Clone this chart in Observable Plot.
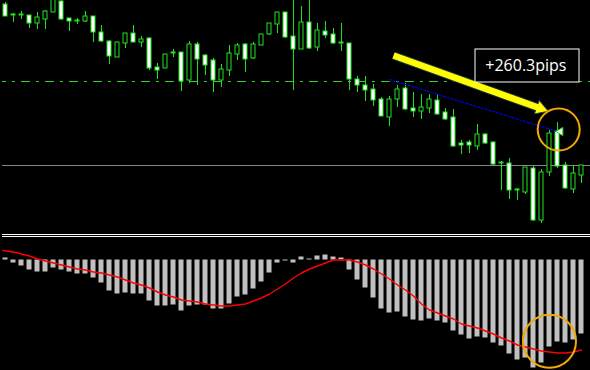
<!DOCTYPE html>
<html>
<head>
<meta charset="utf-8">
<script src="https://cdn.jsdelivr.net/npm/d3@7"></script>
<script src="https://cdn.jsdelivr.net/npm/@observablehq/plot@0.6"></script>
<style>
  html, body { margin: 0; padding: 0; background: #000; }
  #chart { width: 590px; height: 370px; background: #000; overflow: hidden; }
  #chart svg { display: block; }
  .separator { margin-left: 2px; height: 1px; border-top: 1px solid #fff; border-bottom: 1px solid #fff; }
</style>
</head>
<body>
<div id="chart"></div>
<script>
// Price bars (oldest first)
const open = [
  1.1496,1.1486,1.1486,1.1485,1.1477,1.1481,1.1488,1.1499,1.1482,1.1480,
  1.1479,1.1484,1.1468,1.1459,1.1443,1.1457,1.1467,1.1458,1.1462,1.1433,
  1.1432,1.1448,1.1448,1.1420,1.1456,1.1445,1.1440,1.1420,1.1430,1.1446,
  1.1456,1.1442,1.1455,1.1466,1.1476,1.1488,1.1464,1.1451,1.1478,1.1453,
  1.1469,1.1466,1.1458,1.1457,1.1421,1.1415,1.1411,1.1401,1.1383,1.1401,
  1.1412,1.1392,1.1389,1.1392,1.1400,1.1388,1.1383,1.1357,1.1358,1.1354,
  1.1366,1.1358,1.1338,1.1337,1.1311,1.1308,1.1332,1.1280,1.1328,1.1369,
  1.1335,1.1311,1.1325
];
const high = [
  1.1498,1.1487,1.1489,1.1485,1.1488,1.1490,1.1504,1.1500,1.1482,1.1482,
  1.1489,1.1484,1.1475,1.1460,1.1458,1.1467,1.1475,1.1464,1.1463,1.1437,
  1.1446,1.1451,1.1448,1.1459,1.1458,1.1446,1.1442,1.1436,1.1455,1.1457,
  1.1457,1.1458,1.1466,1.1477,1.1488,1.1488,1.1502,1.1494,1.1502,1.1477,
  1.1479,1.1472,1.1477,1.1457,1.1424,1.1424,1.1416,1.1403,1.1404,1.1415,
  1.1417,1.1408,1.1406,1.1406,1.1406,1.1392,1.1391,1.1360,1.1360,1.1376,
  1.1367,1.1359,1.1339,1.1342,1.1312,1.1333,1.1334,1.1331,1.1370,1.1378,
  1.1338,1.1335,1.1335
];
const low = [
  1.1484,1.1478,1.1481,1.1472,1.1471,1.1471,1.1488,1.1480,1.1469,1.1476,
  1.1478,1.1458,1.1458,1.1436,1.1443,1.1452,1.1458,1.1453,1.1430,1.1421,
  1.1432,1.1443,1.1409,1.1417,1.1415,1.1425,1.1408,1.1413,1.1424,1.1440,
  1.1428,1.1441,1.1455,1.1465,1.1467,1.1462,1.1410,1.1451,1.1451,1.1449,
  1.1462,1.1456,1.1449,1.1410,1.1408,1.1399,1.1394,1.1384,1.1374,1.1393,
  1.1390,1.1383,1.1381,1.1387,1.1385,1.1380,1.1353,1.1346,1.1347,1.1350,
  1.1356,1.1335,1.1310,1.1301,1.1300,1.1306,1.1279,1.1277,1.1324,1.1332,
  1.1311,1.1307,1.1317
];
const close = [
  1.1484,1.1485,1.1485,1.1477,1.1483,1.1489,1.1502,1.1481,1.1479,1.1479,
  1.1484,1.1468,1.1459,1.1444,1.1458,1.1467,1.1458,1.1461,1.1432,1.1430,
  1.1446,1.1447,1.1419,1.1456,1.1441,1.1435,1.1420,1.1431,1.1447,1.1455,
  1.1441,1.1456,1.1466,1.1477,1.1488,1.1463,1.1451,1.1478,1.1452,1.1470,
  1.1465,1.1457,1.1457,1.1421,1.1415,1.1410,1.1400,1.1384,1.1401,1.1411,
  1.1391,1.1389,1.1393,1.1401,1.1386,1.1381,1.1354,1.1355,1.1355,1.1366,
  1.1357,1.1336,1.1337,1.1310,1.1310,1.1333,1.1280,1.1328,1.1367,1.1334,
  1.1312,1.1327,1.1335
];

// MACD histogram, one value per bar
const histogram = [
   0.02,-0.03,-0.06,-0.10,-0.12,-0.12,-0.08,-0.10,-0.12,-0.14,
  -0.14,-0.18,-0.23,-0.31,-0.34,-0.33,-0.34,-0.34,-0.41,-0.46,
  -0.46,-0.45,-0.51,-0.46,-0.45,-0.45,-0.49,-0.49,-0.44,-0.37,
  -0.35,-0.29,-0.22,-0.13,-0.03,-0.01,-0.03, 0.03, 0.01, 0.04,
   0.05, 0.03, 0.02,-0.10,-0.20,-0.28,-0.38,-0.49,-0.53,-0.52,
  -0.57,-0.60,-0.61,-0.59,-0.61,-0.63,-0.71,-0.75,-0.79,-0.77,
  -0.78,-0.83,-0.86,-0.94,-1.00,-0.98,-1.08,-1.03,-0.87,-0.82,
  -0.83,-0.80,-0.74
];
// Signal line; starts one bar earlier, just off the left edge
const signal = [
   0.11,
   0.09, 0.08, 0.06, 0.04, 0.01,-0.01,-0.03,-0.05,-0.07,-0.09,
  -0.10,-0.12,-0.13,-0.15,-0.17,-0.20,-0.23,-0.25,-0.28,-0.32,
  -0.35,-0.37,-0.40,-0.41,-0.42,-0.44,-0.45,-0.46,-0.46,-0.45,
  -0.44,-0.41,-0.38,-0.34,-0.29,-0.24,-0.18,-0.13,-0.09,-0.06,
  -0.03, 0.00, 0.00, 0.00,-0.02,-0.05,-0.09,-0.14,-0.19,-0.25,
  -0.30,-0.36,-0.44,-0.50,-0.53,-0.56,-0.59,-0.64,-0.66,-0.68,
  -0.71,-0.74,-0.78,-0.81,-0.85,-0.87,-0.89,-0.91,-0.92,-0.93,
  -0.93,-0.92,-0.90
];

// Horizontal levels
const entryLevel = 1.1419;
const supportLevel = 1.1335;

// Trend line from bar 48 to the marker at bar 69
const trendLine = [{i: 48, price: 1.1421}, {i: 69, price: 1.1369}];
const marker = [{i: 69.375, price: 1.1369}];

// Annotations
const arrowTail = {i: 48.5, price: 1.1445};
const arrowHead = {i: 66.9, price: 1.1392};
const labelText = "+260.3pips";
const labelBox = {i1: 58.75, i2: 71.75, top: 1.1451, bottom: 1.1418};
const labelAnchor = {i: 65.05, price: 1.1435};
const priceCircle = {i: 69.15, price: 1.1371};
const macdCircle = {i: 68.0, value: -0.813};

const candleGreen = "#1ee21e";
const levelGreen = "#32cd32";
const orange = "#f2a900";
const yellow = "#ffff00";
const arrowEdge = "#1d3442";

const bars = open.map((o, i) => ({i, open: o, high: high[i], low: low[i], close: close[i]}));
const hist = histogram.map((v, i) => ({i, v}));
const sig = signal.map((v, k) => ({i: k - 1, v}));

const xDomain = [-0.375, 73.125];

const pricePanel = Plot.plot({
  width: 590, height: 234,
  marginTop: 0, marginBottom: 0, marginLeft: 2, marginRight: 0,
  x: {domain: xDomain, axis: null},
  y: {domain: [1.1266, 1.1500], axis: null},
  style: {background: "#000", overflow: "hidden"},
  marks: [
    Plot.ruleY([supportLevel], {stroke: "#808890", strokeWidth: 1}),
    Plot.ruleY([entryLevel], {stroke: levelGreen, strokeDasharray: "9,6,3,6", strokeDashoffset: 5}),
    Plot.ruleX(bars, {x: "i", y1: "low", y2: "high", stroke: candleGreen, clip: true}),
    Plot.rect(bars, {
      x1: d => d.i - 0.25, x2: d => d.i + 0.25, y1: "open", y2: "close",
      fill: d => d.close < d.open ? "#ffffff" : "#000000",
      stroke: candleGreen, strokeWidth: 1, clip: true
    }),
    Plot.line(trendLine, {x: "i", y: "price", stroke: "#0000ee", strokeWidth: 1.2, strokeDasharray: "2,2"}),
    Plot.dot(marker, {x: "i", y: "price", symbol: "triangle", rotate: -90, r: 3, fill: "#ffffff", stroke: candleGreen, strokeWidth: 1}),
    // yellow arrow: dark edge, head, shaft
    Plot.link([0], {x1: () => arrowTail.i, y1: () => arrowTail.price, x2: () => arrowHead.i, y2: () => arrowHead.price, stroke: arrowEdge, strokeWidth: 8.5}),
    Plot.dot([arrowHead], {x: "i", y: "price", symbol: "triangle", rotate: 109.7, r: 5.4, fill: yellow, stroke: arrowEdge, strokeWidth: 1}),
    Plot.link([0], {x1: () => arrowTail.i, y1: () => arrowTail.price, x2: () => arrowHead.i, y2: () => arrowHead.price, stroke: yellow, strokeWidth: 6.5}),
    // profit label
    Plot.rect([labelBox], {x1: "i1", x2: "i2", y1: "top", y2: "bottom", fill: "#000", stroke: "#ffffff", strokeWidth: 1}),
    Plot.text([labelAnchor], {x: "i", y: "price", text: () => labelText, fill: "#ffffff", fontSize: 16, fontFamily: "Open Sans, sans-serif", textAnchor: "middle"}),
    Plot.dot([priceCircle], {x: "i", y: "price", r: 21, fill: "none", stroke: orange, strokeWidth: 2})
  ]
});

const macdPanel = Plot.plot({
  width: 590, height: 133,
  marginTop: 0, marginBottom: 0, marginLeft: 2, marginRight: 0,
  x: {domain: xDomain, axis: null},
  y: {domain: [-1.105, 0.225], axis: null},
  style: {background: "#000", overflow: "hidden"},
  marks: [
    Plot.rect(hist, {x1: d => d.i - 0.3125, x2: d => d.i + 0.3125, y1: 0, y2: "v", fill: "#c0c0c0", clip: true}),
    Plot.line(sig, {x: "i", y: "v", stroke: "#ff0000", strokeWidth: 1.4, clip: true}),
    Plot.dot([macdCircle], {x: "i", y: "value", r: 26.5, fill: "none", stroke: orange, strokeWidth: 2})
  ]
});

const root = document.getElementById("chart");
root.appendChild(pricePanel);
const sep = document.createElement("div");
sep.className = "separator";
root.appendChild(sep);
root.appendChild(macdPanel);
</script>
</body>
</html>
